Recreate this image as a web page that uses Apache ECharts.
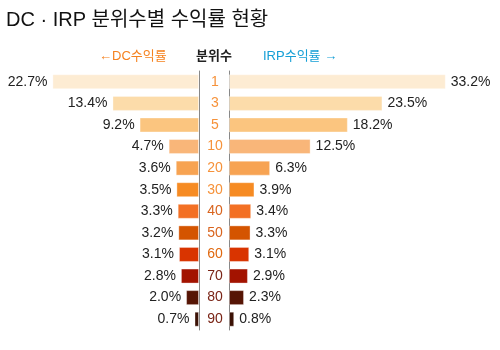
<!DOCTYPE html>
<html>
<head>
<meta charset="utf-8">
<script src="https://cdn.jsdelivr.net/npm/echarts@6/dist/echarts.min.js"></script>
<style>
  html, body { margin: 0; padding: 0; background: #fff; }
  #chart { width: 500px; height: 350px; }
</style>
</head>
<body>
<div id="chart"></div>
<script>
// 분위수 / 수익률 데이터
var categories = ['1', '3', '5', '10', '20', '30', '40', '50', '60', '70', '80', '90']
var dcValues = [22.7, 13.4, 9.2, 4.7, 3.6, 3.5, 3.3, 3.2, 3.1, 2.8, 2.0, 0.7]
var irpValues = [33.2, 23.5, 18.2, 12.5, 6.3, 3.9, 3.4, 3.3, 3.1, 2.9, 2.3, 0.8]
var barColors = ['#fdecd3', '#fcdcaa', '#fbc57f', '#f9b679', '#f7a352', '#f68b23',
  '#f37024', '#d45400', '#d93400', '#a31300', '#561505', '#3c1206']
var labelColors = ['#f6923a', '#f6923a', '#f6923a', '#f6923a', '#f6923a', '#f6923a',
  '#d9641e', '#d9641e', '#e0680f', '#7a2416', '#7a2416', '#7a2416']

var FONT = '"Liberation Sans", "Noto Sans CJK KR", sans-serif'

function makeData (values) {
  return values.map(function (v, i) {
    return { value: v, itemStyle: { color: barColors[i] } }
  })
}

function pct (p) {
  return p.value.toFixed(1) + '%'
}

var rich = {}
labelColors.forEach(function (c, i) {
  rich['c' + i] = { color: c, fontSize: 14, fontFamily: FONT }
})

var chart = echarts.init(document.getElementById('chart'))
chart.setOption({
  animation: false,
  title: [
    { text: 'DC · IRP 분위수별 수익률 현황', left: 1, top: 5,
      textStyle: { fontSize: 20, fontWeight: 'normal', color: '#111', fontFamily: FONT } },
    { text: '←DC수익률', left: 94, top: 45,
      textStyle: { fontSize: 13, fontWeight: 'normal', color: '#f58220', fontFamily: FONT } },
    { text: '분위수', left: 191, top: 45,
      textStyle: { fontSize: 13, fontWeight: 'bold', color: '#222', fontFamily: FONT } },
    { text: 'IRP수익률 →', left: 258, top: 45,
      textStyle: { fontSize: 13, fontWeight: 'normal', color: '#159fd6', fontFamily: FONT } }
  ],
  grid: [
    { left: 44, right: 301, top: 71, bottom: 20 },
    { left: 229, right: 49, top: 71, bottom: 20 }
  ],
  xAxis: [
    { gridIndex: 0, type: 'value', min: 0, max: 24, inverse: true, show: false },
    { gridIndex: 1, type: 'value', min: 0, max: 34, show: false }
  ],
  yAxis: [
    {
      gridIndex: 0, type: 'category', data: categories, inverse: true, position: 'right',
      axisLine: { lineStyle: { color: '#888' } },
      axisTick: { show: false },
      axisLabel: { show: false }
    },
    {
      gridIndex: 1, type: 'category', data: categories, inverse: true,
      axisLine: { lineStyle: { color: '#888' } },
      axisTick: { show: false },
      axisLabel: {
        align: 'center',
        margin: 14,
        formatter: function (val, i) { return '{c' + i + '|' + val + '}' },
        rich: rich
      }
    }
  ],
  series: [
    {
      type: 'bar', xAxisIndex: 0, yAxisIndex: 0, barWidth: 15,
      data: makeData(dcValues),
      itemStyle: { borderColor: 'rgba(255,255,255,0.35)', borderWidth: 1 },
      label: { show: true, position: 'left', distance: 5, formatter: pct,
        color: '#222', fontSize: 14, fontFamily: FONT }
    },
    {
      type: 'bar', xAxisIndex: 1, yAxisIndex: 1, barWidth: 15,
      data: makeData(irpValues),
      itemStyle: { borderColor: 'rgba(255,255,255,0.35)', borderWidth: 1 },
      label: { show: true, position: 'right', distance: 5, formatter: pct,
        color: '#222', fontSize: 14, fontFamily: FONT }
    }
  ]
})
</script>
</body>
</html>
